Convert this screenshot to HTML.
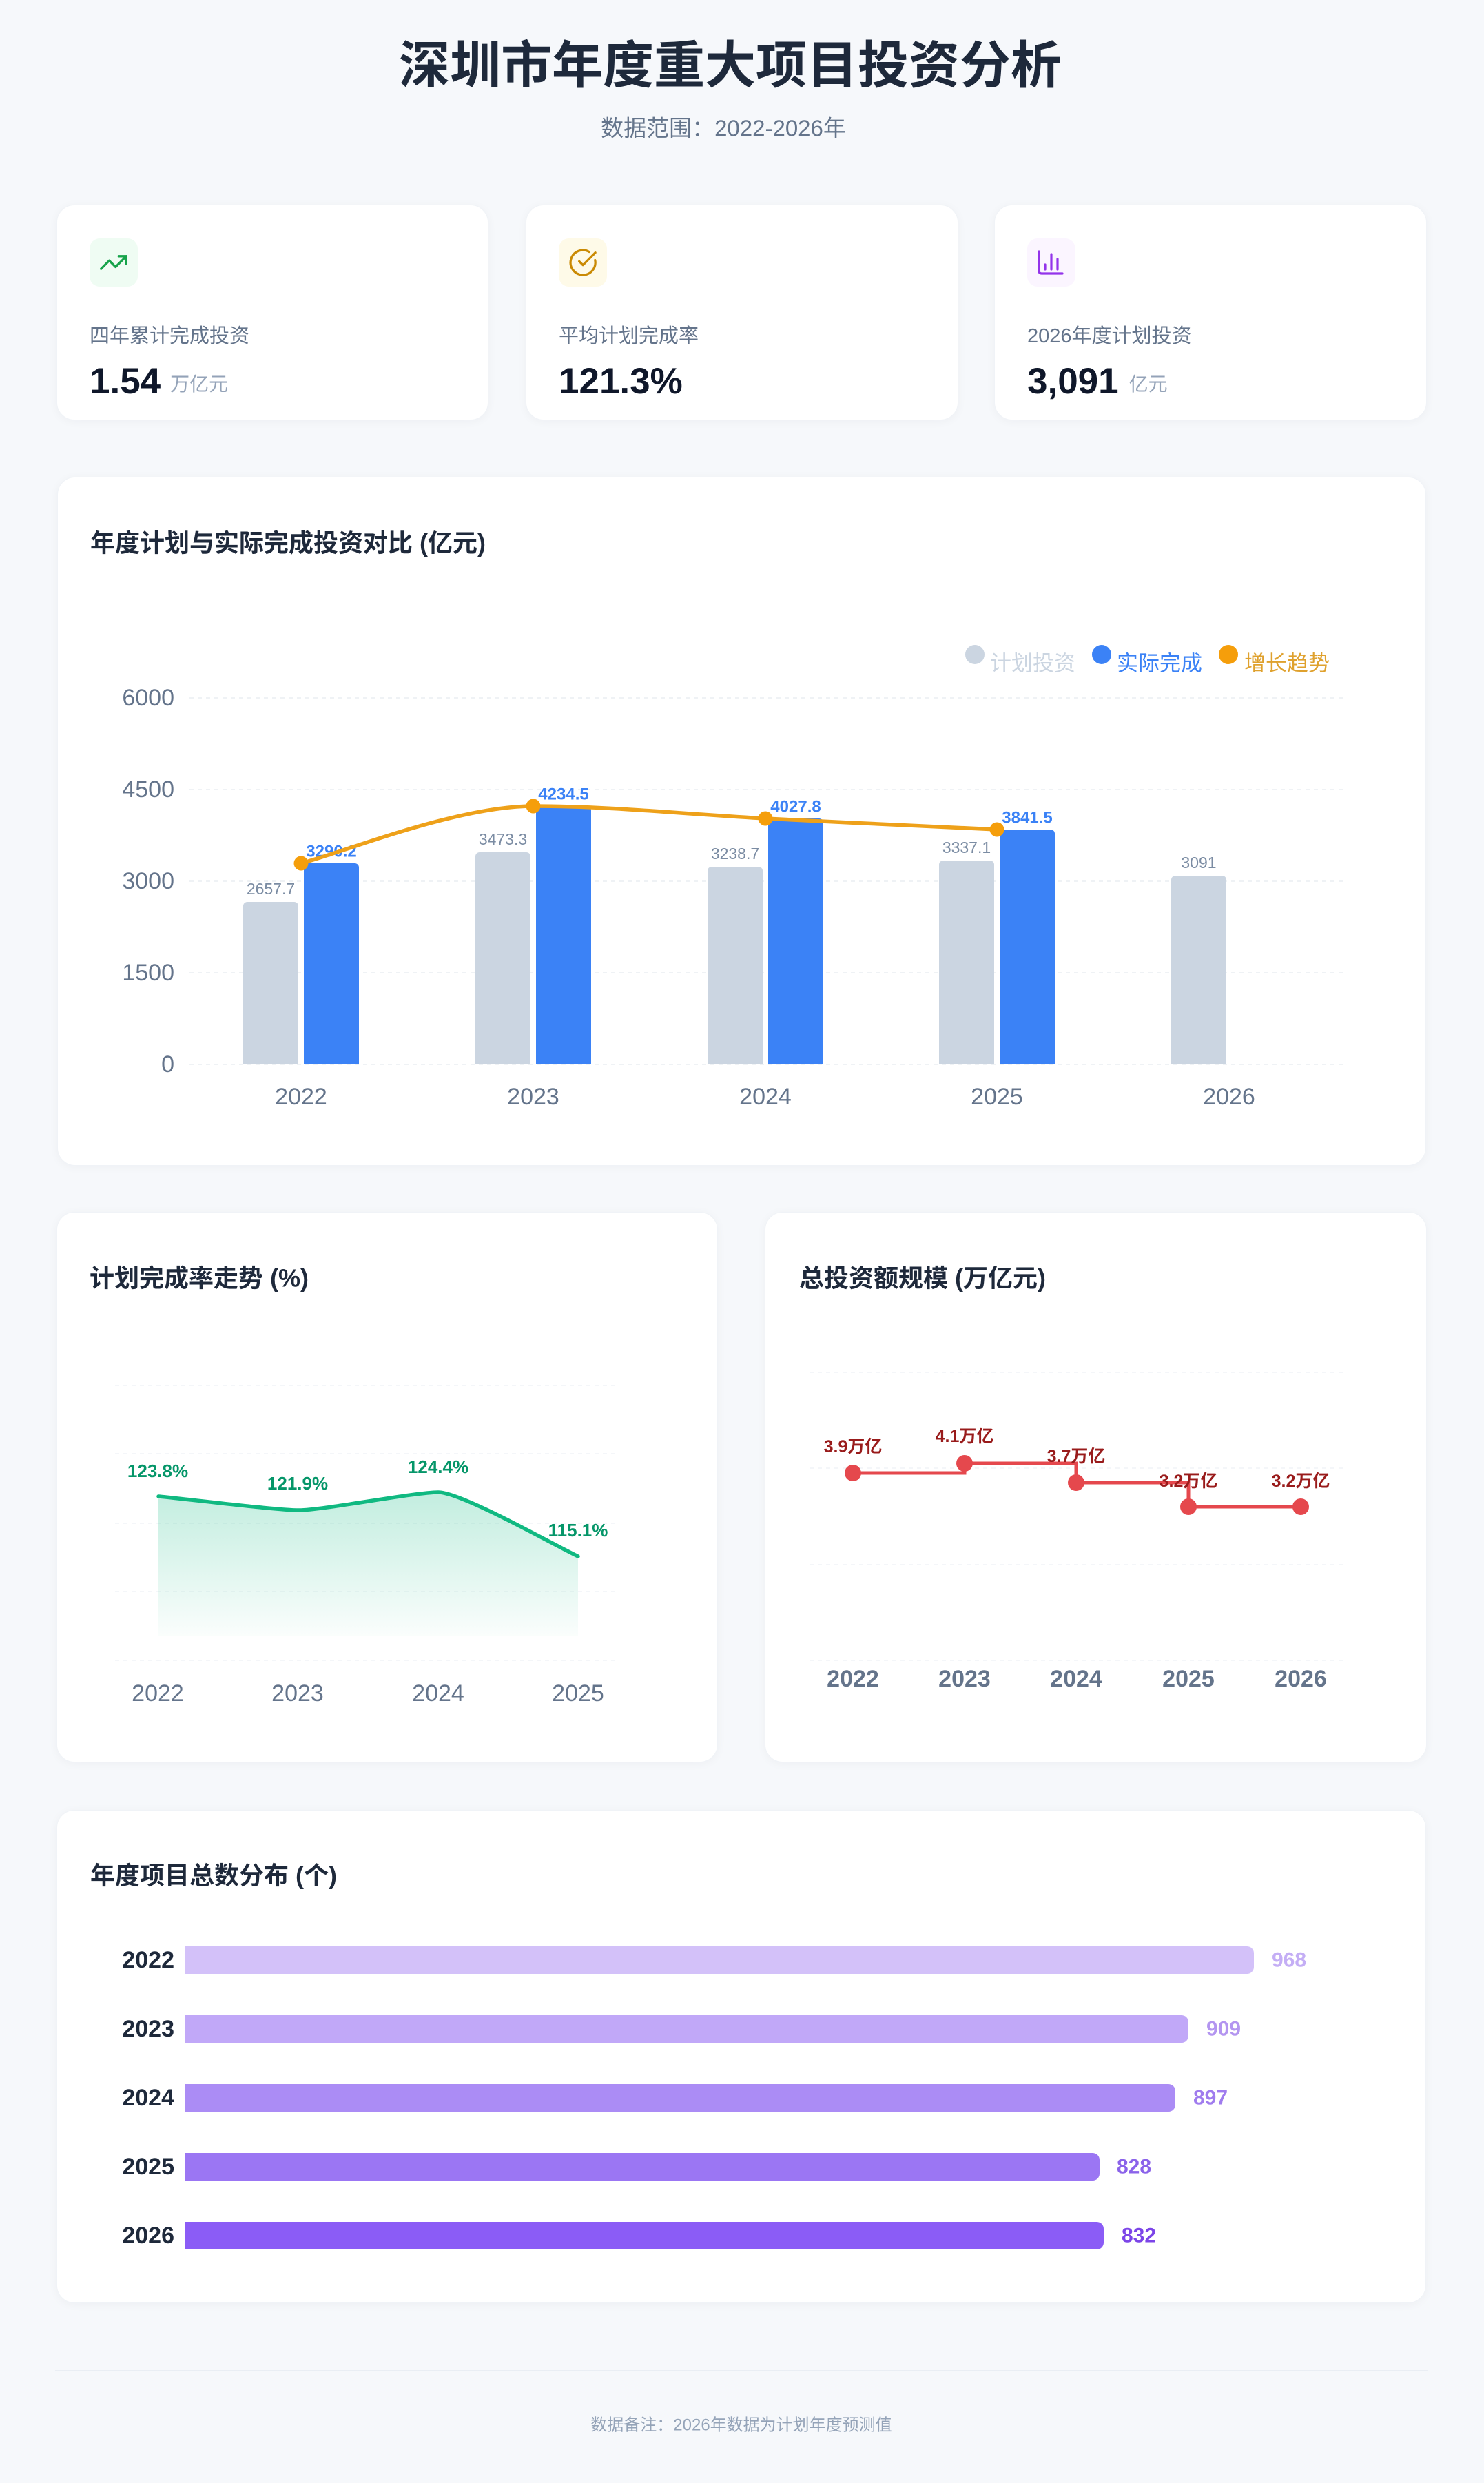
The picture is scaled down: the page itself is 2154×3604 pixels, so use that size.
<!DOCTYPE html>
<html>
<head>
<meta charset="utf-8">
<style>
html,body{margin:0;padding:0;}
body{width:2154px;height:3604px;background:#f6f8fb;position:relative;overflow:hidden;font-family:"Liberation Sans","Noto Sans CJK SC",sans-serif;}
.card{position:absolute;background:#ffffff;border-radius:26px;box-shadow:0 2px 14px rgba(15,23,42,0.04);border:1px solid #f0f3f7;box-sizing:border-box;}
svg.ov{position:absolute;left:0;top:0;}
</style>
</head>
<body>
<div class="card" style="left:82px;top:297px;width:627px;height:313px"></div>
<div class="card" style="left:763px;top:297px;width:628px;height:313px"></div>
<div class="card" style="left:1443px;top:297px;width:628px;height:313px"></div>
<div class="card" style="left:83px;top:692px;width:1987px;height:1000px"></div>
<div class="card" style="left:82px;top:1759px;width:960px;height:799px"></div>
<div class="card" style="left:1110px;top:1759px;width:961px;height:799px"></div>
<div class="card" style="left:82px;top:2627px;width:1988px;height:716px"></div>
<div style="position:absolute;left:80px;top:3440px;width:1992px;height:2px;background:#eaeef4"></div>

<svg class="ov" width="2154" height="3604" viewBox="0 0 2154 3604" xmlns="http://www.w3.org/2000/svg" font-family="'Liberation Sans','Noto Sans CJK SC',sans-serif">
  <defs>
    <linearGradient id="gArea" x1="0" y1="2160" x2="0" y2="2374" gradientUnits="userSpaceOnUse">
      <stop offset="0" stop-color="#10b981" stop-opacity="0.26"/>
      <stop offset="1" stop-color="#10b981" stop-opacity="0.02"/>
    </linearGradient>
  </defs>

  <!-- Header -->
  <text x="1060" y="95" text-anchor="middle" dominant-baseline="central" font-size="74" font-weight="700" fill="#1e293b">深圳市年度重大项目投资分析</text>
  <text x="1050" y="186" text-anchor="middle" dominant-baseline="central" font-size="33" fill="#64748b">数据范围：2022-2026年</text>

  <!-- KPI 1 -->
  <rect x="130" y="346" width="70" height="70" rx="15" fill="#effcf3"/>
  <g transform="translate(143,359) scale(1.833)" fill="none" stroke="#16a34a" stroke-width="1.8" stroke-linecap="round" stroke-linejoin="round">
    <polyline points="22 7 13.5 15.5 8.5 10.5 2 17"/>
    <polyline points="16 7 22 7 22 13"/>
  </g>
  <text x="130" y="497" font-size="29" fill="#64748b">四年累计完成投资</text>
  <text x="130" y="571" font-size="53" font-weight="700" fill="#0f172a">1.54<tspan dx="14" dy="-4" font-size="28" font-weight="400" fill="#94a3b8">万亿元</tspan></text>

  <!-- KPI 2 -->
  <rect x="811" y="346" width="70" height="70" rx="15" fill="#fefae8"/>
  <g transform="translate(824.5,359.5) scale(1.8)" fill="none" stroke="#ca8a04" stroke-width="1.8" stroke-linecap="round" stroke-linejoin="round">
    <path d="M21.801 10A10 10 0 1 1 17 3.335"/>
    <path d="m9 11 3 3L22 4"/>
  </g>
  <text x="811" y="497" font-size="29" fill="#64748b">平均计划完成率</text>
  <text x="811" y="571" font-size="53" font-weight="700" fill="#0f172a">121.3%</text>

  <!-- KPI 3 -->
  <rect x="1491" y="346" width="70" height="70" rx="15" fill="#fbf5ff"/>
  <g fill="none" stroke="#9333ea" stroke-width="3.2" stroke-linecap="round" stroke-linejoin="round">
    <path d="M1508 365 V393 Q1508 397 1512 397 H1542"/>
    <path d="M1517 391 V384"/>
    <path d="M1526 391 V369"/>
    <path d="M1535 391 V376"/>
  </g>
  <text x="1491" y="497" font-size="29" fill="#64748b">2026年度计划投资</text>
  <text x="1491" y="571" font-size="53" font-weight="700" fill="#0f172a">3,091<tspan dx="15" dy="-4" font-size="28" font-weight="400" fill="#94a3b8">亿元</tspan></text>

  <!-- ===== Chart 1 ===== -->
  <text x="131" y="788" dominant-baseline="central" font-size="36" font-weight="700" fill="#1e293b">年度计划与实际完成投资对比 (亿元)</text>

  <!-- legend -->
  <circle cx="1415" cy="950" r="14" fill="#cbd5e1"/>
  <text x="1437" y="963" dominant-baseline="central" font-size="31" fill="#cbd5e1">计划投资</text>
  <circle cx="1599" cy="950" r="14" fill="#3b82f6"/>
  <text x="1621" y="963" dominant-baseline="central" font-size="31" fill="#3b82f6">实际完成</text>
  <circle cx="1783" cy="950" r="14" fill="#f59e0b"/>
  <text x="1806" y="963" dominant-baseline="central" font-size="31" fill="#dfa12e">增长趋势</text>

  <!-- grid -->
  <g stroke="#eaedf2" stroke-width="1.5" stroke-dasharray="6 6">
    <line x1="275" y1="1013" x2="1953" y2="1013"/>
    <line x1="275" y1="1146" x2="1953" y2="1146"/>
    <line x1="275" y1="1279" x2="1953" y2="1279"/>
    <line x1="275" y1="1412" x2="1953" y2="1412"/>
    <line x1="275" y1="1545" x2="1953" y2="1545"/>
  </g>
  <g font-size="34" fill="#64748b" text-anchor="end" dominant-baseline="central">
    <text x="253" y="1013">6000</text>
    <text x="253" y="1146">4500</text>
    <text x="253" y="1279">3000</text>
    <text x="253" y="1412">1500</text>
    <text x="253" y="1545">0</text>
  </g>
  <g font-size="34" fill="#64748b" text-anchor="middle" dominant-baseline="central">
    <text x="437" y="1592">2022</text>
    <text x="774" y="1592">2023</text>
    <text x="1111" y="1592">2024</text>
    <text x="1447" y="1592">2025</text>
    <text x="1784" y="1592">2026</text>
  </g>

  <!-- plan bars -->
  <g fill="#cbd5e1">
    <rect x="353" y="1309" width="80" height="236" rx="6"/><rect x="353" y="1315" width="80" height="230"/>
    <rect x="690" y="1237" width="80" height="308" rx="6"/><rect x="690" y="1243" width="80" height="302"/>
    <rect x="1027" y="1258" width="80" height="287" rx="6"/><rect x="1027" y="1264" width="80" height="281"/>
    <rect x="1363" y="1249" width="80" height="296" rx="6"/><rect x="1363" y="1255" width="80" height="290"/>
    <rect x="1700" y="1271" width="80" height="274" rx="6"/><rect x="1700" y="1277" width="80" height="268"/>
  </g>
  <!-- actual bars -->
  <g fill="#3b82f6">
    <rect x="441" y="1253" width="80" height="292" rx="6"/><rect x="441" y="1259" width="80" height="286"/>
    <rect x="778" y="1170" width="80" height="375" rx="6"/><rect x="778" y="1176" width="80" height="369"/>
    <rect x="1115" y="1188" width="80" height="357" rx="6"/><rect x="1115" y="1194" width="80" height="351"/>
    <rect x="1451" y="1204" width="80" height="341" rx="6"/><rect x="1451" y="1210" width="80" height="335"/>
  </g>
  <g font-size="23" fill="#7b8ca3" text-anchor="middle" dominant-baseline="central">
    <text x="393" y="1290">2657.7</text>
    <text x="730" y="1218">3473.3</text>
    <text x="1067" y="1239">3238.7</text>
    <text x="1403" y="1230">3337.1</text>
    <text x="1740" y="1252">3091</text>
  </g>
  <g font-size="24" font-weight="700" fill="#3b82f6" text-anchor="middle" dominant-baseline="central">
    <text x="481" y="1236">3290.2</text>
    <text x="818" y="1153">4234.5</text>
    <text x="1155" y="1171">4027.8</text>
    <text x="1491" y="1187">3841.5</text>
  </g>
  <path d="M437,1253 C493,1239 662,1170 774,1170 C886,1170 999,1182 1111,1188 C1223,1194 1391,1201 1447,1204" fill="none" stroke="#eea11a" stroke-width="5.5" stroke-linecap="round"/>
  <g fill="#f59e0b">
    <circle cx="437" cy="1253" r="10.5"/>
    <circle cx="774" cy="1170" r="10.5"/>
    <circle cx="1111" cy="1188" r="10.5"/>
    <circle cx="1447" cy="1204" r="10.5"/>
  </g>

  <!-- ===== Chart 2: completion rate ===== -->
  <text x="130" y="1855" dominant-baseline="central" font-size="36" font-weight="700" fill="#1e293b">计划完成率走势 (%)</text>
  <g stroke="#f1f4f7" stroke-width="1.5" stroke-dasharray="6 6">
    <line x1="167" y1="2011" x2="896" y2="2011"/>
    <line x1="167" y1="2110" x2="896" y2="2110"/>
    <line x1="167" y1="2211" x2="896" y2="2211"/>
    <line x1="167" y1="2310" x2="896" y2="2310"/>
    <line x1="167" y1="2410" x2="896" y2="2410"/>
  </g>
  <path d="M230,2172 C264,2175 400,2192 434,2192 C468,2192 602,2166 636,2166 C670,2166 805,2243 839,2259 L839,2374 L230,2374 Z" fill="url(#gArea)"/>
  <path d="M230,2172 C264,2175 400,2192 434,2192 C468,2192 602,2166 636,2166 C670,2166 805,2243 839,2259" fill="none" stroke="#10b981" stroke-width="5.5" stroke-linecap="round"/>
  <g font-size="26" font-weight="700" fill="#059669" text-anchor="middle" dominant-baseline="central">
    <text x="229" y="2135">123.8%</text>
    <text x="432" y="2153">121.9%</text>
    <text x="636" y="2129">124.4%</text>
    <text x="839" y="2221">115.1%</text>
  </g>
  <g font-size="34" fill="#64748b" text-anchor="middle" dominant-baseline="central">
    <text x="229" y="2458">2022</text>
    <text x="432" y="2458">2023</text>
    <text x="636" y="2458">2024</text>
    <text x="839" y="2458">2025</text>
  </g>

  <!-- ===== Chart 3: total investment step ===== -->
  <text x="1160" y="1855" dominant-baseline="central" font-size="36" font-weight="700" fill="#1e293b">总投资额规模 (万亿元)</text>
  <g stroke="#f1f4f7" stroke-width="1.5" stroke-dasharray="6 6">
    <line x1="1175" y1="1992" x2="1952" y2="1992"/>
    <line x1="1175" y1="2131" x2="1952" y2="2131"/>
    <line x1="1175" y1="2271" x2="1952" y2="2271"/>
    <line x1="1175" y1="2410" x2="1952" y2="2410"/>
  </g>
  <path d="M1238,2138 H1400 V2124 H1562 V2152 H1725 V2187 H1888" fill="none" stroke="#e5484d" stroke-width="5"/>
  <g fill="#e5484d">
    <circle cx="1238" cy="2138" r="12"/>
    <circle cx="1400" cy="2124" r="12"/>
    <circle cx="1562" cy="2152" r="12"/>
    <circle cx="1725" cy="2187" r="12"/>
    <circle cx="1888" cy="2187" r="12"/>
  </g>
  <g font-size="25" font-weight="700" fill="#991b1b" text-anchor="middle" dominant-baseline="central">
    <text x="1238" y="2100">3.9万亿</text>
    <text x="1400" y="2085">4.1万亿</text>
    <text x="1562" y="2114">3.7万亿</text>
    <text x="1725" y="2150">3.2万亿</text>
    <text x="1888" y="2150">3.2万亿</text>
  </g>
  <g font-size="34" font-weight="700" fill="#64748b" text-anchor="middle" dominant-baseline="central">
    <text x="1238" y="2437">2022</text>
    <text x="1400" y="2437">2023</text>
    <text x="1562" y="2437">2024</text>
    <text x="1725" y="2437">2025</text>
    <text x="1888" y="2437">2026</text>
  </g>

  <!-- ===== Chart 4: project counts ===== -->
  <text x="131" y="2722" dominant-baseline="central" font-size="36" font-weight="700" fill="#1e293b">年度项目总数分布 (个)</text>
  <rect x="269" y="2825" width="1551" height="40" rx="10" fill="#d3c1f9"/><rect x="269" y="2825" width="30" height="40" fill="#d3c1f9"/>
  <rect x="269" y="2925" width="1456" height="40" rx="10" fill="#c1a8f8"/><rect x="269" y="2925" width="30" height="40" fill="#c1a8f8"/>
  <rect x="269" y="3025" width="1437" height="40" rx="10" fill="#ab8cf5"/><rect x="269" y="3025" width="30" height="40" fill="#ab8cf5"/>
  <rect x="269" y="3125" width="1327" height="40" rx="10" fill="#9b76f3"/><rect x="269" y="3125" width="30" height="40" fill="#9b76f3"/>
  <rect x="269" y="3225" width="1333" height="40" rx="10" fill="#8b5cf6"/><rect x="269" y="3225" width="30" height="40" fill="#8b5cf6"/>
  <g font-size="34" font-weight="700" fill="#1e293b" text-anchor="end" dominant-baseline="central">
    <text x="253" y="2845">2022</text>
    <text x="253" y="2945">2023</text>
    <text x="253" y="3045">2024</text>
    <text x="253" y="3145">2025</text>
    <text x="253" y="3245">2026</text>
  </g>
  <g font-size="30" font-weight="700" dominant-baseline="central">
    <text x="1846" y="2845" fill="#c4aef5">968</text>
    <text x="1751" y="2945" fill="#b395f0">909</text>
    <text x="1732" y="3045" fill="#a07cee">897</text>
    <text x="1621" y="3145" fill="#8b63ea">828</text>
    <text x="1628" y="3245" fill="#7c45e8">832</text>
  </g>

  <!-- footer -->
  <text x="1076" y="3520" text-anchor="middle" dominant-baseline="central" font-size="24" fill="#94a3b8">数据备注：2026年数据为计划年度预测值</text>
</svg>
</body>
</html>
